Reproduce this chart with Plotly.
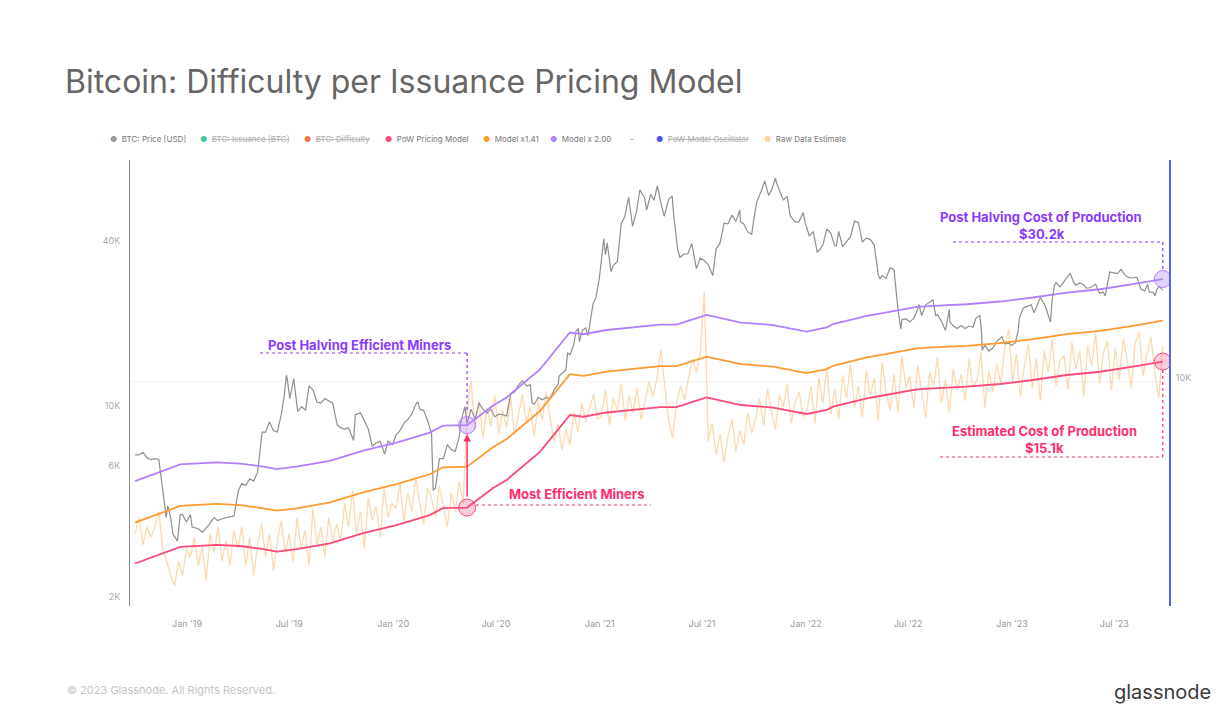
import numpy as np
import pandas as pd
import plotly.graph_objects as go

# ---------------- DATA ----------------
price_dates = [
    "2018-10-01", "2018-10-08", "2018-10-15", "2018-10-22", "2018-10-29", "2018-11-05", "2018-11-12",
    "2018-11-15", "2018-11-19", "2018-11-22", "2018-11-25", "2018-11-28", "2018-12-03", "2018-12-07",
    "2018-12-15", "2018-12-20", "2018-12-24", "2018-12-31",
    "2019-01-07", "2019-01-10", "2019-01-21", "2019-01-28", "2019-02-08", "2019-02-18", "2019-02-24",
    "2019-03-11", "2019-03-25", "2019-04-02", "2019-04-08", "2019-04-15", "2019-04-22", "2019-04-29",
    "2019-05-06", "2019-05-11", "2019-05-14", "2019-05-20", "2019-05-27", "2019-06-03", "2019-06-10",
    "2019-06-17", "2019-06-22", "2019-06-26", "2019-06-28", "2019-07-02", "2019-07-09", "2019-07-16",
    "2019-07-23", "2019-07-30", "2019-08-05", "2019-08-12", "2019-08-19", "2019-08-26", "2019-09-02",
    "2019-09-16", "2019-09-24", "2019-09-30", "2019-10-07", "2019-10-14", "2019-10-23", "2019-10-26",
    "2019-11-04", "2019-11-11", "2019-11-18", "2019-11-25", "2019-12-02", "2019-12-09", "2019-12-17",
    "2019-12-23", "2019-12-31",
    "2020-01-06", "2020-01-13", "2020-01-20", "2020-01-27", "2020-02-03", "2020-02-10", "2020-02-14",
    "2020-02-17", "2020-02-24", "2020-03-02", "2020-03-09", "2020-03-12", "2020-03-16", "2020-03-23",
    "2020-03-30", "2020-04-06", "2020-04-13", "2020-04-20", "2020-04-27", "2020-04-30", "2020-05-07",
    "2020-05-11", "2020-05-18", "2020-05-25", "2020-06-01", "2020-06-08", "2020-06-15", "2020-06-22",
    "2020-06-29", "2020-07-06", "2020-07-13", "2020-07-20", "2020-07-27", "2020-08-03", "2020-08-10",
    "2020-08-17", "2020-08-24", "2020-08-31", "2020-09-03", "2020-09-07", "2020-09-14", "2020-09-21",
    "2020-09-28", "2020-10-05", "2020-10-12", "2020-10-19", "2020-10-21", "2020-10-26", "2020-11-02",
    "2020-11-05", "2020-11-09", "2020-11-16", "2020-11-20", "2020-11-24", "2020-11-26", "2020-12-01",
    "2020-12-07", "2020-12-11", "2020-12-16", "2020-12-20", "2020-12-25", "2020-12-31",
    "2021-01-03", "2021-01-08", "2021-01-11", "2021-01-14", "2021-01-21", "2021-01-25", "2021-02-01",
    "2021-02-08", "2021-02-14", "2021-02-21", "2021-02-28", "2021-03-07", "2021-03-13", "2021-03-21",
    "2021-03-25", "2021-04-01", "2021-04-07", "2021-04-13", "2021-04-18", "2021-04-25", "2021-05-03",
    "2021-05-09", "2021-05-12", "2021-05-19", "2021-05-23", "2021-05-30", "2021-06-06", "2021-06-13",
    "2021-06-21", "2021-06-28", "2021-07-05", "2021-07-12", "2021-07-20", "2021-07-26", "2021-08-02",
    "2021-08-09", "2021-08-16", "2021-08-23", "2021-08-30", "2021-09-06", "2021-09-07", "2021-09-13",
    "2021-09-20", "2021-09-27", "2021-10-01", "2021-10-06", "2021-10-15", "2021-10-20", "2021-10-27",
    "2021-11-01", "2021-11-08", "2021-11-10", "2021-11-16", "2021-11-22", "2021-11-29", "2021-12-04",
    "2021-12-13", "2021-12-20", "2021-12-27", "2021-12-31",
    "2022-01-07", "2022-01-14", "2022-01-21", "2022-01-24", "2022-01-31", "2022-02-07", "2022-02-14",
    "2022-02-21", "2022-02-24", "2022-02-28", "2022-03-07", "2022-03-14", "2022-03-21", "2022-03-28",
    "2022-04-04", "2022-04-11", "2022-04-18", "2022-04-25", "2022-05-02", "2022-05-09", "2022-05-12",
    "2022-05-16", "2022-05-23", "2022-05-30", "2022-06-06", "2022-06-13", "2022-06-18", "2022-06-20",
    "2022-06-27", "2022-07-04", "2022-07-11", "2022-07-18", "2022-07-20", "2022-07-25", "2022-08-01",
    "2022-08-08", "2022-08-14", "2022-08-19", "2022-08-22", "2022-08-29", "2022-09-05", "2022-09-12",
    "2022-09-13", "2022-09-19", "2022-09-26", "2022-10-03", "2022-10-10", "2022-10-17", "2022-10-24",
    "2022-10-29", "2022-11-05", "2022-11-08", "2022-11-09", "2022-11-14", "2022-11-21", "2022-11-28",
    "2022-12-05", "2022-12-14", "2022-12-19", "2022-12-26", "2022-12-31",
    "2023-01-07", "2023-01-12", "2023-01-14", "2023-01-21", "2023-01-28", "2023-02-04", "2023-02-09",
    "2023-02-16", "2023-02-20", "2023-02-27", "2023-03-03", "2023-03-10", "2023-03-13", "2023-03-17",
    "2023-03-20", "2023-03-27", "2023-04-03", "2023-04-10", "2023-04-14", "2023-04-20", "2023-04-24",
    "2023-05-01", "2023-05-08", "2023-05-12", "2023-05-19", "2023-05-29", "2023-06-05", "2023-06-12",
    "2023-06-15", "2023-06-20", "2023-06-23", "2023-06-30", "2023-07-07", "2023-07-13", "2023-07-20",
    "2023-07-27", "2023-08-03", "2023-08-10", "2023-08-17", "2023-08-24", "2023-08-29", "2023-09-01",
    "2023-09-08", "2023-09-11", "2023-09-15", "2023-09-19", "2023-09-25",
]
price_usd = [
    6600, 6600, 6750, 6450, 6350, 6400, 6350, 5600, 4800, 4400, 3900, 4300, 3900, 3400,
    3200, 4000, 4000, 3750,
    4000, 3600, 3550, 3450, 3650, 3900, 3800, 3900, 3950, 4900, 5200, 5100, 5400, 5300,
    5700, 6900, 8000, 8000, 8700, 8100, 8000, 9300, 10800, 12900, 12300, 10600, 12500, 9500,
    9900, 9600, 11800, 11400, 10300, 10200, 10600, 10200, 8500, 8300, 8200, 8300, 7450, 9250,
    9400, 8800, 8200, 7100, 7300, 7400, 6650, 7400, 7200,
    7800, 8100, 8600, 8900, 9300, 10100, 10300, 9700, 9600, 8800, 7900, 4900, 5000, 6400,
    6400, 7200, 6900, 6800, 7700, 8700, 9900, 8600, 9700, 8900, 10200, 9700, 9400, 9700,
    9100, 9300, 9250, 9160, 11000, 11200, 11900, 12300, 11800, 11900, 10200, 10100, 10700, 10500,
    10700, 10600, 11400, 11900, 12800, 13100, 13500, 15600, 15300, 16700, 18700, 19100, 17100, 18800,
    19200, 18000, 21300, 23500, 24700, 29000,
    32800, 40600, 35500, 39200, 30800, 32500, 33500, 46200, 48700, 57500, 45100, 51000, 61200, 57500,
    51700, 59000, 56100, 63500, 56200, 49000, 56600, 58200, 49200, 37000, 34700, 35700, 35800, 39000,
    31600, 34500, 33800, 32700, 29800, 37300, 39200, 46300, 46000, 49500, 47000, 51700, 46800, 46000,
    43000, 42200, 48200, 55300, 61500, 66000, 58400, 61000, 67500, 65000, 60300, 56300, 57800, 49300,
    46700, 46900, 50600, 46300,
    41600, 43100, 36300, 36700, 38500, 44000, 42600, 38300, 38300, 43200, 38000, 39700, 41300, 47100,
    46600, 39500, 40800, 40400, 38500, 30100, 29000, 29800, 29100, 31800, 31400, 22500, 19000, 20600,
    20700, 20200, 20800, 22500, 23400, 21300, 23300, 23800, 24300, 21200, 21500, 20300, 18800, 22400,
    20200, 19500, 19100, 19600, 19100, 19500, 19300, 20800, 21300, 18500, 15900, 16600, 15800, 16200,
    17100, 17800, 16800, 16900, 16550,
    16950, 18800, 20900, 22700, 23000, 23300, 21800, 23900, 24800, 23500, 22400, 20200, 24100, 27400,
    28100, 27100, 28200, 29600, 30400, 28200, 27500, 28000, 27600, 26800, 26900, 27700, 25700, 25900,
    25100, 28300, 30700, 30500, 30300, 31400, 29900, 29300, 29200, 29400, 26600, 26200, 27700, 25900,
    25900, 25100, 26600, 27200, 26300,
]

model_dates = [
    "2018-10-01", "2018-11-20", "2018-12-20", "2019-02-23", "2019-04-05", "2019-05-16", "2019-06-09",
    "2019-07-14", "2019-09-11", "2019-11-09", "2020-01-07", "2020-03-06", "2020-03-29", "2020-05-11",
    "2020-06-26", "2020-07-20", "2020-09-17", "2020-11-09", "2020-12-03", "2021-01-13", "2021-04-18",
    "2021-05-17", "2021-07-09", "2021-09-08", "2021-11-04", "2022-01-02", "2022-02-07", "2022-02-18",
    "2022-04-19", "2022-05-12", "2022-07-16", "2022-08-14", "2022-10-13", "2022-12-11", "2023-02-07",
    "2023-04-08", "2023-06-06", "2023-08-03", "2023-09-14", "2023-09-25",
]
model_usd = [
    2650, 2890, 3050, 3100, 3070, 2990, 2930, 2990, 3140, 3420, 3660, 3980, 4220, 4240,
    5000, 5350, 6770, 9230, 9100, 9430, 9870, 9870, 10700, 10040, 9830, 9310, 9630, 9900,
    10620, 10830, 11460, 11550, 11710, 11980, 12390, 12920, 13280, 13860, 14380, 14470,
]

model_multipliers = [1.41, 2.00]

raw_start = "2018-10-01"   # weekly samples of the raw estimate, thousand USD
raw_k = [
    3.4, 3.9, 3.1, 3.6, 3.3, 3.6, 4.1, 3.0, 2.7, 2.4, 2.2, 2.7, 2.4, 3.0,
    2.8, 3.3, 2.6, 3.1, 2.3, 3.4, 2.9, 3.6, 2.7, 3.2, 2.6, 3.5,
    3.0, 3.6, 2.6, 3.3, 2.4, 3.1, 3.7, 2.8, 3.4, 2.5, 3.2, 3.8, 2.9,
    3.4, 2.7, 3.9, 3.0, 3.5, 2.6, 4.2, 3.1, 3.6, 2.8, 3.9, 3.2, 3.7,
    3.2, 4.4, 3.6, 4.9, 3.4, 4.1, 3.0, 4.6, 3.8, 4.3, 3.3, 5.0, 3.9, 4.4,
    4.2, 5.2, 3.8, 4.8, 4.1, 5.5, 4.4, 3.7, 5.0,
    4.6, 3.9, 5.1, 4.3, 3.6, 4.8, 4.1, 5.3, 4.4,
    9.5, 12.3, 8.2, 10.4, 7.6, 9.8, 8.4, 10.8,
    7.9, 9.6, 8.3, 10.7, 7.8, 9.2, 11.0, 8.6, 9.9, 7.7, 10.4, 8.8, 11.2,
    9.0, 7.4, 8.6, 6.9, 8.2, 7.2, 9.4, 8.0, 10.2, 8.7, 9.8, 11.0, 8.9,
    9.2, 11.4, 8.5, 10.6, 9.6, 12.0, 8.8, 10.9, 9.4, 11.6, 8.9, 10.3, 12.2,
    10.8, 12.5, 16.0, 11.6, 8.8, 7.6, 10.2, 11.8, 10.5,
    12.5, 14.8, 13.2, 15.5, 26.0,
    7.4, 8.6, 6.6, 7.9, 6.2, 7.7, 8.9, 6.8, 8.1, 7.2, 9.4, 7.9,
    9.0, 10.6, 8.4, 11.5, 9.5, 8.2, 10.9, 9.9, 12.0, 8.6, 10.3, 11.2, 9.1,
    9.6, 11.8, 8.6, 12.6, 10.2, 13.8, 9.3, 11.5, 8.9, 12.9, 10.6, 14.2, 9.8,
    11.8, 9.0, 13.4, 10.8, 12.6, 8.8, 14.4, 11.2, 9.6, 13.0, 9.4, 15.2, 11.6,
    12.8, 9.8, 14.0, 11.0, 9.0, 13.2, 11.8, 15.0, 10.2, 12.4, 9.4, 13.6, 11.4,
    13.0, 10.4, 14.8, 11.6, 12.4, 15.6, 9.8, 13.4, 11.2, 14.2, 12.0, 16.2, 19.0,
    12.2, 15.4, 10.8, 14.0, 16.8, 11.6, 14.8, 10.4, 15.8, 13.2, 17.4, 11.8, 14.6,
    15.2, 11.4, 17.0, 13.6, 15.8, 10.8, 16.6, 14.0, 18.4, 12.0, 15.6, 17.2, 11.4,
    16.2, 12.4, 17.6, 14.6, 11.6, 16.8, 18.6, 12.8, 15.4, 17.8, 13.2, 10.6, 16.4,
]

halving_date = "2020-05-11"

x_tick_dates = ["2019-01-01", "2019-07-01", "2020-01-01", "2020-07-01", "2021-01-01",
                "2021-07-01", "2022-01-01", "2022-07-01", "2023-01-01", "2023-07-01"]
x_tick_text = ["Jan '19", "Jul '19", "Jan '20", "Jul '20", "Jan '21",
               "Jul '21", "Jan '22", "Jul '22", "Jan '23", "Jul '23"]
y_tick_vals = [2000, 6000, 10000, 40000]
y_tick_text = ["2K", "6K", "10K", "40K"]

# ---------------- STYLE ----------------
C_PRICE = "#8f8f8f"
C_MODEL = "#fb4a78"
C_141 = "#ff9a30"
C_200 = "#b280ff"
C_RAW = "rgba(252,192,125,0.6)"
C_PURPLE_TXT = "#8a3cfd"
C_PINK_TXT = "#ff2d6e"
FONT = "Inter"

W, H = 1232, 723
L, R, T, B = 130, 1169, 160, 606


def px(x):
    return (x - L) / (R - L)


def py(y):
    return (B - y) / (B - T)


raw_dates = pd.date_range(raw_start, periods=len(raw_k), freq="7D")
raw_usd = [v * 1000 for v in raw_k]
model_141 = [v * model_multipliers[0] for v in model_usd]
model_200 = [v * model_multipliers[1] for v in model_usd]
i_halv = model_dates.index(halving_date)

fig = go.Figure()
fig.add_trace(go.Scatter(x=raw_dates, y=raw_usd, mode="lines", name="Raw Data Estimate",
                         line=dict(color=C_RAW, width=1.3)))
fig.add_trace(go.Scatter(x=price_dates, y=price_usd, mode="lines", name="BTC: Price [USD]",
                         line=dict(color=C_PRICE, width=1.2)))
fig.add_trace(go.Scatter(x=model_dates, y=model_usd, mode="lines", name="PoW Pricing Model",
                         line=dict(color=C_MODEL, width=1.8)))
fig.add_trace(go.Scatter(x=model_dates, y=model_141, mode="lines", name="Model x1.41",
                         line=dict(color=C_141, width=1.8)))
fig.add_trace(go.Scatter(x=model_dates, y=model_200, mode="lines", name="Model x 2.00",
                         line=dict(color=C_200, width=1.8)))
# hidden oscillator series lives on the right axis (no data shown)
fig.add_trace(go.Scatter(x=[], y=[], yaxis="y2", name="PoW Model Oscillator", showlegend=False,
                         hoverinfo="skip"))

# highlight circles
circ_x = [halving_date, halving_date, model_dates[-1], model_dates[-1]]
circ_y = [model_200[i_halv], model_usd[i_halv], model_200[-1], model_usd[-1]]
circ_fill = ["rgba(178,128,255,0.35)", "rgba(251,74,120,0.28)",
             "rgba(178,128,255,0.35)", "rgba(251,74,120,0.28)"]
circ_line = [C_200, C_MODEL, C_200, C_MODEL]
fig.add_trace(go.Scatter(x=circ_x, y=circ_y, mode="markers", showlegend=False,
                         marker=dict(size=17, color=circ_fill,
                                     line=dict(color=circ_line, width=1))))

fig.update_layout(
    width=W, height=H, showlegend=False,
    margin=dict(l=L, r=W - R, t=T, b=H - B),
    paper_bgcolor="white", plot_bgcolor="white",
    font=dict(family=FONT, color="#999"),
    title=dict(text="Bitcoin: Difficulty per Issuance Pricing Model", x=65 / W, xref="container",
               xanchor="left", y=1 - 82 / H, yref="container", yanchor="middle",
               font=dict(family=FONT, size=32, color="#666")),
    xaxis=dict(type="date", range=["2018-09-22", "2023-10-06"], tickvals=x_tick_dates,
               ticktext=x_tick_text, showgrid=False, zeroline=False, showline=False, ticks="",
               tickfont=dict(size=9, color="#999"), ticklabelstandoff=11),
    yaxis=dict(type="log", range=[3.2682, 4.8960], tickvals=y_tick_vals, ticktext=y_tick_text,
               showgrid=False, zeroline=False, showline=True, linecolor="#8a8a8a", linewidth=1,
               ticks="", tickfont=dict(size=9, color="#aaa"), ticklabelstandoff=7),
    yaxis2=dict(type="log", overlaying="y", side="right", anchor="x", range=[3.1788, 4.8066],
                tickvals=[10000], ticktext=["10K"], showgrid=True, gridcolor="#f4f4f4",
                zeroline=False, showline=True, linecolor="#5b5ff2", linewidth=2, ticks="",
                tickfont=dict(size=9, color="#aaa"), ticklabelstandoff=3, ticklabelshift=-3),
)

ann = []
shapes = []

# legend (custom, to show struck-through hidden series)
legend_items = [
    ("BTC: Price [USD]", "#9a9a9a", False, 111),
    ("BTC: Issuance [BTC]", "#45c99c", True, 201),
    ("BTC: Difficulty", "#f4753f", True, 305),
    ("PoW Pricing Model", "#fb4a78", False, 386),
    ("Model x1.41", "#ff9a30", False, 484),
    ("Model x 2.00", "#b280ff", False, 551),
    ("PoW Model Oscillator", "#4d55e0", True, 657),
    ("Raw Data Estimate", "#fdd3a2", False, 765),
]
for label_txt, col, struck, xpos in legend_items:
    lab = f'<span style="text-decoration:line-through">{label_txt}</span>' if struck else label_txt
    ann.append(dict(xref="paper", yref="paper", x=px(xpos - 3.5), y=py(139), xanchor="left",
                    yanchor="middle", showarrow=False,
                    text=f'<span style="color:{col}">●</span>  {lab}',
                    font=dict(family=FONT, size=8, color="#aaa" if struck else "#777")))
ann.append(dict(xref="paper", yref="paper", x=px(632), y=py(139), xanchor="center",
                yanchor="middle", showarrow=False,
                text="-", font=dict(family=FONT, size=8, color="#777")))


def label(text, x, y, color, size=13):
    ann.append(dict(xref="paper", yref="paper", x=px(x), y=py(y), showarrow=False,
                    xanchor="center", yanchor="middle", text=f"<b>{text}</b>",
                    font=dict(family=FONT, size=size, color=color)))


label("Post Halving Efficient Miners", 359.5, 345, C_PURPLE_TXT)
label("Most Efficient Miners", 576.5, 494, C_PINK_TXT)
label("Post Halving Cost of Production", 1041, 217, C_PURPLE_TXT)
label("$30.2k", 1042, 234, C_PURPLE_TXT)
label("Estimated Cost of Production", 1044, 431, C_PINK_TXT)
label("$15.1k", 1044, 448, C_PINK_TXT)

# arrow from most efficient to post halving circle
ann.append(dict(xref="x", yref="y", x=halving_date, y=np.log10(model_200[i_halv]), ax=0, ay=82,
                showarrow=True, text="", arrowhead=2, arrowsize=1, arrowwidth=1.5,
                arrowcolor=C_PINK_TXT, standoff=9, startstandoff=9))

dot = dict(width=1.2, dash="dot")
shapes.append(dict(type="line", xref="paper", yref="paper", x0=px(260), x1=px(467), y0=py(353),
                   y1=py(353), line=dict(color=C_PURPLE_TXT, **dot)))
shapes.append(dict(type="line", xref="x", yref="paper", x0=halving_date, x1=halving_date,
                   y0=py(353), y1=py(413), line=dict(color=C_PURPLE_TXT, **dot)))
shapes.append(dict(type="line", xref="paper", yref="paper", x0=px(476), x1=px(651), y0=py(505),
                   y1=py(505), line=dict(color=C_PINK_TXT, **dot)))
shapes.append(dict(type="line", xref="paper", yref="paper", x0=px(953), x1=px(1163), y0=py(242),
                   y1=py(242), line=dict(color=C_PURPLE_TXT, **dot)))
shapes.append(dict(type="line", xref="x", yref="paper", x0=model_dates[-1], x1=model_dates[-1],
                   y0=py(242), y1=py(269), line=dict(color=C_PURPLE_TXT, **dot)))
shapes.append(dict(type="line", xref="paper", yref="paper", x0=px(940), x1=px(1163), y0=py(457),
                   y1=py(457), line=dict(color=C_PINK_TXT, **dot)))
shapes.append(dict(type="line", xref="x", yref="paper", x0=model_dates[-1], x1=model_dates[-1],
                   y0=py(457), y1=py(370), line=dict(color=C_PINK_TXT, **dot)))

# footer
ann.append(dict(xref="paper", yref="paper", x=px(65), y=py(690), xanchor="left", yanchor="middle",
                showarrow=False, text="© 2023 Glassnode. All Rights Reserved.",
                font=dict(family=FONT, size=11, color="#c4c4c4")))
ann.append(dict(xref="paper", yref="paper", x=px(1213), y=py(692), xanchor="right", yanchor="middle",
                showarrow=False, text="glassnode",
                font=dict(family=FONT, size=20, color="#3a3a3a")))

fig.update_layout(annotations=ann, shapes=shapes)
fig.write_html("out.html", config={"displayModeBar": False},
               post_script="document.body.style.margin='0px';")
